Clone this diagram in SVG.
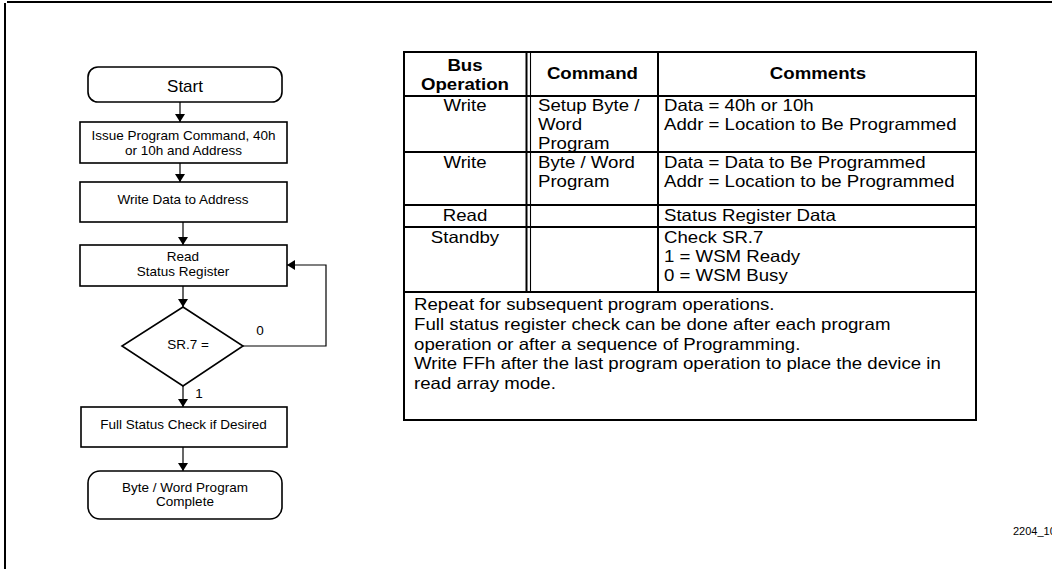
<svg xmlns="http://www.w3.org/2000/svg" width="1052" height="569" viewBox="0 0 1052 569">
<style>
text{font-family:"Liberation Sans",Arial,sans-serif;fill:#000}
.box{fill:#fff;stroke:#000;stroke-width:1.6}
.conn{fill:none;stroke:#000;stroke-width:1.2}
.tl{fill:none;stroke:#000;stroke-width:2}
.ft{font-size:13.5px;text-anchor:middle}
.tb{font-size:16.5px}
.th{font-size:16.5px;font-weight:bold;text-anchor:middle}
.c{text-anchor:middle}
</style>
<defs>
<marker id="ah" viewBox="0 0 8 10" refX="8" refY="5" markerWidth="8" markerHeight="10" markerUnits="userSpaceOnUse" orient="auto"><path d="M0,0 L8,5 L0,10 z" fill="#000"/></marker>
</defs>
<rect width="1052" height="569" fill="#fff"/>
<g id="frame">
<line x1="5" y1="3" x2="5" y2="569" class="tl"/>
<line x1="7" y1="2" x2="1052" y2="2" class="tl"/>
</g>
<g id="connectors">
<path class="conn" d="M180,102 V122" marker-end="url(#ah)"/>
<path class="conn" d="M180,163 V182" marker-end="url(#ah)"/>
<path class="conn" d="M183,222 V245" marker-end="url(#ah)"/>
<path class="conn" d="M183,286 V307" marker-end="url(#ah)"/>
<path class="conn" d="M183,386 V407" marker-end="url(#ah)"/>
<path class="conn" d="M183,447 V471" marker-end="url(#ah)"/>
<path class="conn" d="M243,346 H326 V265 H287" marker-end="url(#ah)"/>
<text x="260" y="335" class="ft">0</text>
<text x="199" y="398" class="ft">1</text>
</g>
<g id="start">
<rect class="box" x="88" y="67" width="194" height="35" rx="10"/>
<text x="185" y="92" style="font-size:17px;text-anchor:middle">Start</text>
</g>
<g id="issue">
<rect class="box" x="80" y="122" width="207" height="41"/>
<text x="183.5" y="140" class="ft">Issue Program Command, 40h</text>
<text x="183.5" y="155" class="ft">or 10h and Address</text>
</g>
<g id="writedata">
<rect class="box" x="80" y="182" width="207" height="40"/>
<text x="183" y="204" class="ft">Write Data to Address</text>
</g>
<g id="readsr">
<rect class="box" x="80" y="245" width="207" height="41"/>
<text x="183" y="261" class="ft">Read</text>
<text x="183" y="276" class="ft">Status Register</text>
</g>
<g id="decision">
<polygon class="box" points="183,307 243,346 183,386 122,346"/>
<text x="188" y="348.5" class="ft">SR.7 =</text>
</g>
<g id="fullcheck">
<rect class="box" x="81" y="407" width="206" height="40"/>
<text x="183.5" y="429" class="ft">Full Status Check if Desired</text>
</g>
<g id="end">
<rect class="box" x="88" y="471" width="194" height="48" rx="12"/>
<text x="185" y="491.5" class="ft">Byte / Word Program</text>
<text x="185" y="506" class="ft">Complete</text>
</g>
<g id="table">
<rect x="404" y="52" width="572" height="368" class="tl"/>
<line x1="404" y1="96" x2="976" y2="96" class="tl"/>
<line x1="404" y1="152" x2="976" y2="152" class="tl"/>
<line x1="404" y1="205" x2="976" y2="205" class="tl"/>
<line x1="404" y1="227" x2="976" y2="227" class="tl"/>
<line x1="404" y1="292" x2="976" y2="292" class="tl"/>
<line x1="526.5" y1="52" x2="526.5" y2="292" class="tl"/>
<line x1="530.5" y1="52" x2="530.5" y2="292" style="stroke:#000;stroke-width:1.1"/>
<line x1="658" y1="52" x2="658" y2="292" class="tl"/>
<g transform="scale(1.13 1)">
<text x="411.5" y="71" class="th">Bus</text>
<text x="411.5" y="90" class="th">Operation</text>
<text x="524.3" y="79" class="th">Command</text>
<text x="723.9" y="79" class="th">Comments</text>
<text x="411.5" y="111" class="tb c">Write</text>
<text x="476.1" y="111" class="tb">Setup Byte /</text>
<text x="476.1" y="130" class="tb">Word</text>
<text x="476.1" y="149" class="tb">Program</text>
<text x="587.6" y="111" class="tb">Data = 40h or 10h</text>
<text x="587.6" y="130" class="tb">Addr = Location to Be Programmed</text>
<text x="411.5" y="168" class="tb c">Write</text>
<text x="476.1" y="168" class="tb">Byte / Word</text>
<text x="476.1" y="187" class="tb">Program</text>
<text x="587.6" y="168" class="tb">Data = Data to Be Programmed</text>
<text x="587.6" y="187" class="tb">Addr = Location to be Programmed</text>
<text x="411.5" y="221" class="tb c">Read</text>
<text x="587.6" y="221" class="tb">Status Register Data</text>
<text x="411.5" y="243" class="tb c">Standby</text>
<text x="587.6" y="243" class="tb">Check SR.7</text>
<text x="587.6" y="262" class="tb">1 = WSM Ready</text>
<text x="587.6" y="281" class="tb">0 = WSM Busy</text>
<text x="366.4" y="310" class="tb">Repeat for subsequent program operations.</text>
<text x="366.4" y="330" class="tb">Full status register check can be done after each program</text>
<text x="366.4" y="350" class="tb">operation or after a sequence of Programming.</text>
<text x="366.4" y="369" class="tb">Write FFh after the last program operation to place the device in</text>
<text x="366.4" y="389" class="tb">read array mode.</text>
</g>
</g>
<text x="1013" y="535" style="font-size:11px">2204_10</text>
</svg>
